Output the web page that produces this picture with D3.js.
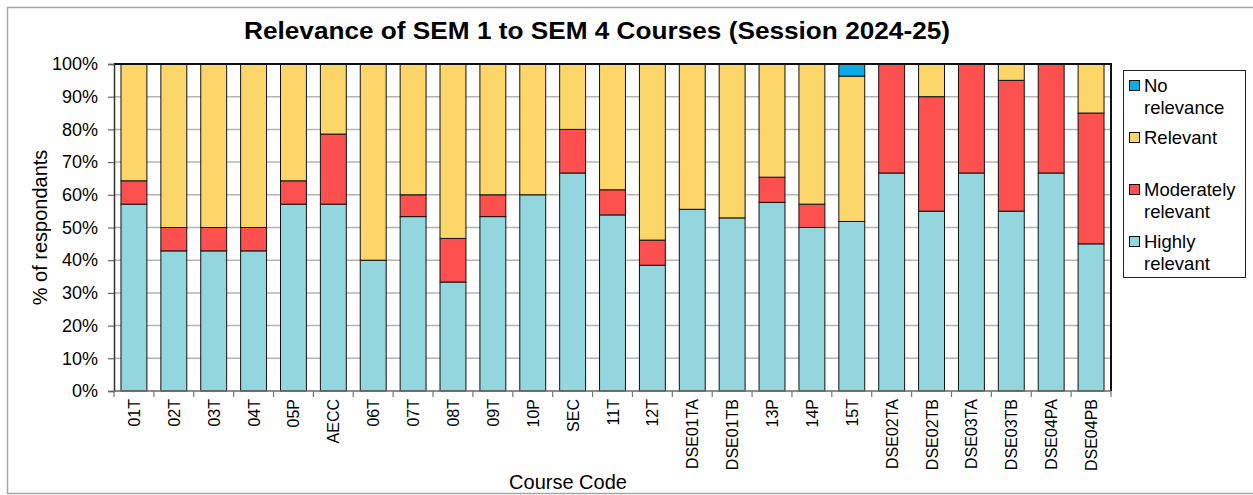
<!DOCTYPE html>
<html>
<head>
<meta charset="utf-8">
<script src="https://cdn.jsdelivr.net/npm/d3@7"></script>
<style>
  html, body { margin: 0; padding: 0; background: #fff; }
  svg { display: block; font-family: "Liberation Sans", Arial, sans-serif; }
</style>
</head>
<body>
<svg id="chart" width="1253" height="495"></svg>
<script>
// Course codes along the x axis
const courses = ["01T","02T","03T","04T","05P","AECC","06T","07T","08T","09T","10P","SEC",
  "11T","12T","DSE01TA","DSE01TB","13P","14P","15T","DSE02TA","DSE02TB","DSE03TA","DSE03TB","DSE04PA","DSE04PB"];

// Share of respondents (%) per rating, one value per course
const highlyRelevant     = [57.14,42.86,42.86,42.86,57.14,57.14,40.00,53.33,33.33,53.33,60.00,66.67,
  53.85,38.46,55.56,52.94,57.69,50.00,51.85,66.67,55.00,66.67,55.00,66.67,45.00];
const moderatelyRelevant = [7.14,7.14,7.14,7.14,7.14,21.43,0,6.67,13.33,6.67,0,13.33,
  7.69,7.69,0,0,7.69,7.14,0,33.33,35.00,33.33,40.00,33.33,40.00];
const relevant           = [35.72,50.00,50.00,50.00,35.72,21.43,60.00,40.00,53.34,40.00,40.00,20.00,
  38.46,53.85,44.44,47.06,34.62,42.86,44.45,0,10.00,0,5.00,0,15.00];
const noRelevance        = [0,0,0,0,0,0,0,0,0,0,0,0,
  0,0,0,0,0,0,3.70,0,0,0,0,0,0];

const yTicks = [0,10,20,30,40,50,60,70,80,90,100];

// Series, stacked from the bottom up
const series = [
  { name: "Highly relevant",     lines: ["Highly","relevant"],     values: highlyRelevant,     color: "#93D6DD" },
  { name: "Moderately relevant", lines: ["Moderately","relevant"], values: moderatelyRelevant, color: "#FF5050" },
  { name: "Relevant",            lines: ["Relevant"],              values: relevant,           color: "#FDD66A" },
  { name: "No relevance",        lines: ["No","relevance"],        values: noRelevance,        color: "#0BABE6" }
];

const svg = d3.select("#chart");

// outer frame
svg.append("rect").attr("x", 7.5).attr("y", 7.5).attr("width", 1260).attr("height", 486)
  .attr("fill", "none").attr("stroke", "#a6a6a6").attr("stroke-width", 1.5);

const plot = { left: 114, right: 1111, top: 64, bottom: 391 };

const x = d3.scaleBand().domain(courses).range([plot.left, plot.right]).paddingInner(0.35).paddingOuter(0.175);
const y = d3.scaleLinear().domain([0, 100]).range([plot.bottom, plot.top]);

// horizontal gridlines
svg.append("g").selectAll("line").data(yTicks.slice(1)).join("line")
  .attr("x1", plot.left).attr("x2", plot.right)
  .attr("y1", d => y(d)).attr("y2", d => y(d))
  .attr("stroke", "#b4b4b4").attr("stroke-width", 1.5);

// stacked bars
const rows = courses.map((c, i) => {
  const r = { course: c };
  series.forEach(s => r[s.name] = s.values[i]);
  return r;
});
const stack = d3.stack().keys(series.map(s => s.name))(rows);

svg.append("g").selectAll("g").data(stack).join("g")
  .attr("fill", (d, i) => series[i].color)
  .selectAll("rect").data(d => d.filter(p => p[1] - p[0] > 0)).join("rect")
  .attr("x", d => x(d.data.course))
  .attr("width", x.bandwidth())
  .attr("y", d => y(Math.min(100, d[1])))
  .attr("height", d => y(d[0]) - y(Math.min(100, d[1])))
  .attr("stroke", "#111").attr("stroke-width", 1);

// plot frame: dark top and right edges
svg.append("path")
  .attr("d", `M${plot.left},${plot.top}H${plot.right}V${plot.bottom}`)
  .attr("fill", "none").attr("stroke", "#111").attr("stroke-width", 2);

// y axis
const yAxis = svg.append("g").attr("transform", `translate(${plot.left},0)`)
  .call(d3.axisLeft(y).tickValues(yTicks).tickFormat(d => d + "%").tickSize(6).tickPadding(10));
yAxis.select(".domain").attr("stroke", "#333").attr("stroke-width", 1.5);
yAxis.selectAll(".tick line").attr("stroke", "#666").attr("stroke-width", 1.2);
yAxis.selectAll("text").attr("font-size", 18).attr("fill", "#000")
  .attr("font-family", "'Liberation Sans', Arial, sans-serif");

// x axis: ticks sit between categories
const xAxisG = svg.append("g").attr("transform", `translate(0,${plot.bottom})`);
xAxisG.append("line").attr("x1", plot.left).attr("x2", plot.right).attr("stroke", "#666").attr("stroke-width", 1.5);
const boundaries = d3.range(courses.length + 1).map(i => plot.left + i * (plot.right - plot.left) / courses.length);
xAxisG.selectAll(".sep").data(boundaries).join("line").attr("class", "sep")
  .attr("x1", d => d).attr("x2", d => d).attr("y1", 0).attr("y2", 6)
  .attr("stroke", "#777").attr("stroke-width", 1.2);
xAxisG.selectAll(".lbl").data(courses).join("text").attr("class", "lbl")
  .attr("transform", d => `translate(${x(d) + x.bandwidth() / 2 + 6},8) rotate(-90)`)
  .attr("text-anchor", "end")
  .attr("font-size", 16)
  .text(d => d);

// title and axis titles
svg.append("text").attr("x", 597).attr("y", 39).attr("text-anchor", "middle")
  .attr("font-size", 23).attr("font-weight", "bold")
  .attr("textLength", 706).attr("lengthAdjust", "spacingAndGlyphs")
  .text("Relevance of SEM 1 to SEM 4 Courses (Session 2024-25)");

svg.append("text").attr("transform", `translate(47,${(plot.top + plot.bottom) / 2}) rotate(-90)`)
  .attr("text-anchor", "middle").attr("font-size", 20)
  .text("% of respondants");

svg.append("text").attr("x", 568).attr("y", 489).attr("text-anchor", "middle")
  .attr("font-size", 20).text("Course Code");

// legend, top entry first
const legend = svg.append("g").attr("transform", "translate(1123,70)");
legend.append("rect").attr("x", 0.5).attr("y", 0.5).attr("width", 122).attr("height", 207)
  .attr("fill", "#fff").attr("stroke", "#222").attr("stroke-width", 1);
const legendOrder = series.slice().reverse();
legendOrder.forEach((s, i) => {
  const g = legend.append("g").attr("transform", `translate(0,${2 + i * 52})`);
  g.append("rect").attr("x", 6.5).attr("y", 8.5).attr("width", 10).attr("height", 10)
    .attr("fill", s.color).attr("stroke", "#111").attr("stroke-width", 1);
  s.lines.forEach((ln, j) => {
    g.append("text").attr("x", 21).attr("y", 20 + j * 22).attr("font-size", 18.5).text(ln);
  });
});
</script>
</body>
</html>
